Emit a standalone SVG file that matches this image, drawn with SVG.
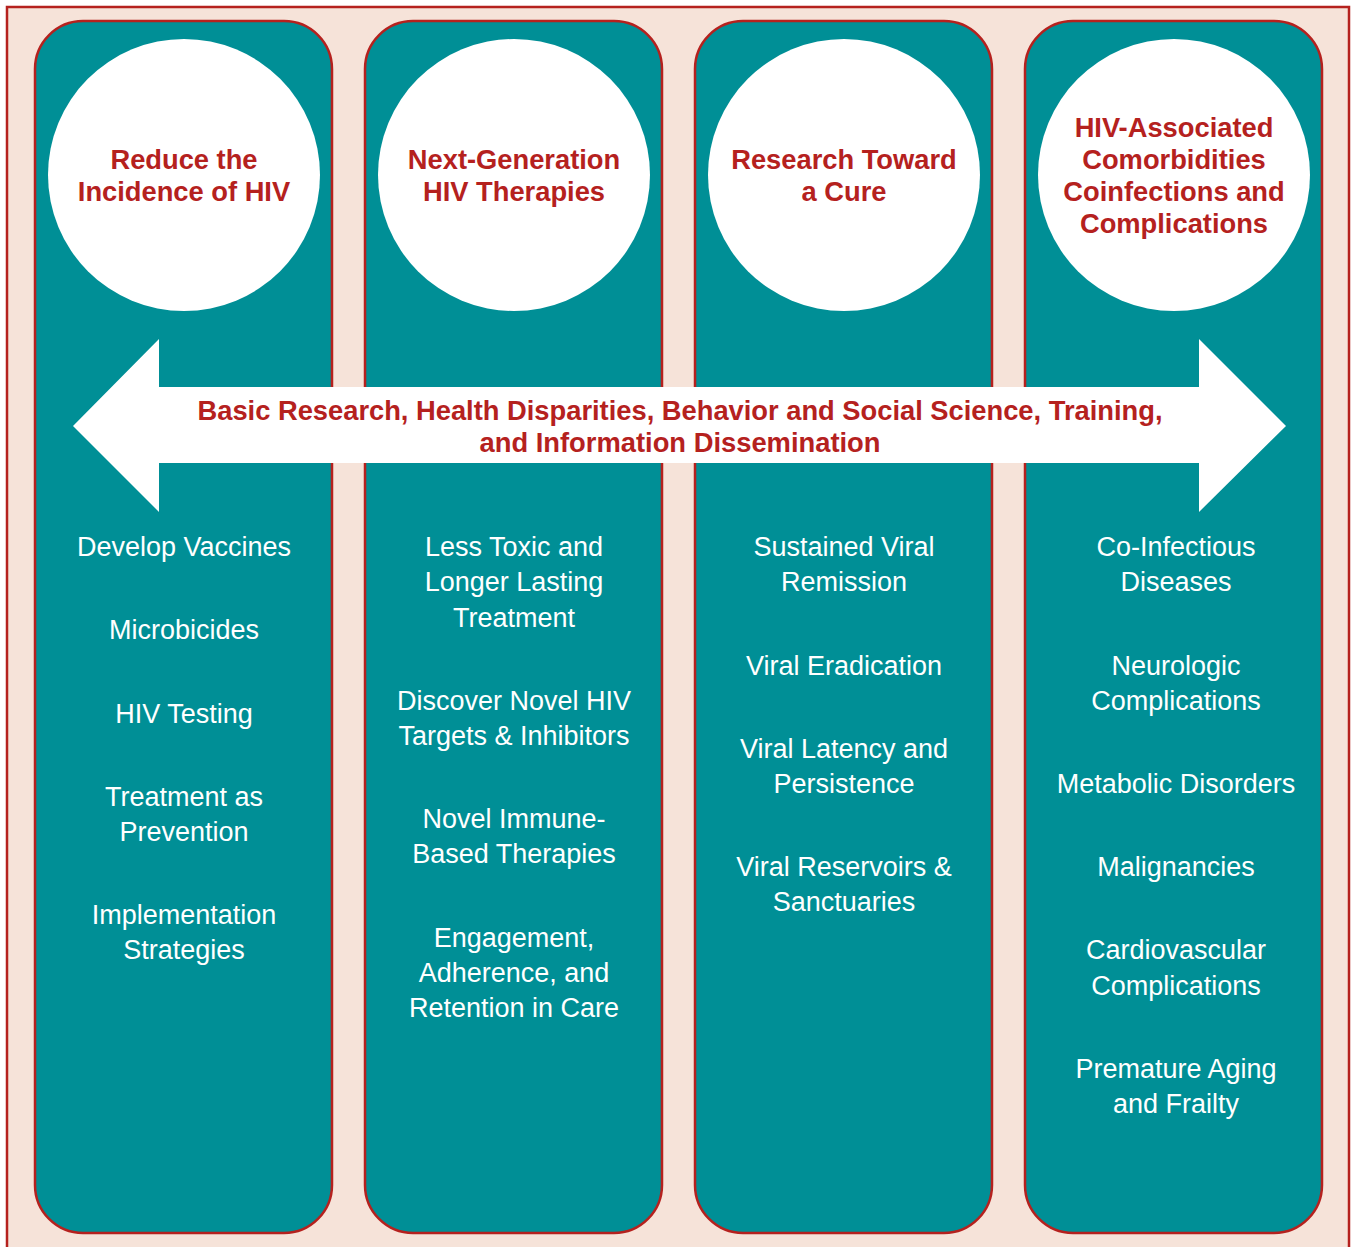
<svg xmlns="http://www.w3.org/2000/svg" width="1351" height="1247" viewBox="0 0 1351 1247">
<style>
.col{fill:#008f96;stroke:#b5211e;stroke-width:2.5}
.circ{fill:#ffffff}
.title{font-family:"Liberation Sans",Arial,sans-serif;font-weight:bold;font-size:27.3px;fill:#b5211e;text-anchor:middle}
.item{font-family:"Liberation Sans",Arial,sans-serif;font-size:27px;fill:#ffffff;text-anchor:middle}
.band{font-family:"Liberation Sans",Arial,sans-serif;font-weight:bold;font-size:27.5px;fill:#b5211e;text-anchor:middle}
</style>
<rect x="0" y="0" width="1351" height="1247" fill="#ffffff"/>
<rect id="frame" x="7" y="7" width="1342" height="1260" fill="#f6e3d9" stroke="#b5211e" stroke-width="2.5"/>

<g id="col-incidence">
<rect class="col" x="35" y="21" width="297" height="1212" rx="48" ry="48"/>
<circle class="circ" cx="184" cy="175" r="136"/>
<text class="title" x="184" y="169">Reduce the</text>
<text class="title" x="184" y="201">Incidence of HIV</text>
<text class="item" x="184" y="556">Develop Vaccines</text>
<text class="item" x="184" y="639">Microbicides</text>
<text class="item" x="184" y="723">HIV Testing</text>
<text class="item" x="184" y="806">Treatment as</text>
<text class="item" x="184" y="841">Prevention</text>
<text class="item" x="184" y="924">Implementation</text>
<text class="item" x="184" y="959">Strategies</text>
</g>

<g id="col-therapies">
<rect class="col" x="365" y="21" width="297" height="1212" rx="48" ry="48"/>
<circle class="circ" cx="514" cy="175" r="136"/>
<text class="title" x="514" y="169">Next-Generation</text>
<text class="title" x="514" y="201">HIV Therapies</text>
<text class="item" x="514" y="556">Less Toxic and</text>
<text class="item" x="514" y="591">Longer Lasting</text>
<text class="item" x="514" y="627">Treatment</text>
<text class="item" x="514" y="710">Discover Novel HIV</text>
<text class="item" x="514" y="745">Targets &amp; Inhibitors</text>
<text class="item" x="514" y="828">Novel Immune-</text>
<text class="item" x="514" y="863">Based Therapies</text>
<text class="item" x="514" y="947">Engagement,</text>
<text class="item" x="514" y="982">Adherence, and</text>
<text class="item" x="514" y="1017">Retention in Care</text>
</g>

<g id="col-cure">
<rect class="col" x="695" y="21" width="297" height="1212" rx="48" ry="48"/>
<circle class="circ" cx="844" cy="175" r="136"/>
<text class="title" x="844" y="169">Research Toward</text>
<text class="title" x="844" y="201">a Cure</text>
<text class="item" x="844" y="556">Sustained Viral</text>
<text class="item" x="844" y="591">Remission</text>
<text class="item" x="844" y="675">Viral Eradication</text>
<text class="item" x="844" y="758">Viral Latency and</text>
<text class="item" x="844" y="793">Persistence</text>
<text class="item" x="844" y="876">Viral Reservoirs &amp;</text>
<text class="item" x="844" y="911">Sanctuaries</text>
</g>

<g id="col-comorbidities">
<rect class="col" x="1025" y="21" width="297" height="1212" rx="48" ry="48"/>
<circle class="circ" cx="1174" cy="175" r="136"/>
<text class="title" x="1174" y="137">HIV-Associated</text>
<text class="title" x="1174" y="169">Comorbidities</text>
<text class="title" x="1174" y="201">Coinfections and</text>
<text class="title" x="1174" y="233">Complications</text>
<text class="item" x="1176" y="556">Co-Infectious</text>
<text class="item" x="1176" y="591">Diseases</text>
<text class="item" x="1176" y="675">Neurologic</text>
<text class="item" x="1176" y="710">Complications</text>
<text class="item" x="1176" y="793">Metabolic Disorders</text>
<text class="item" x="1176" y="876">Malignancies</text>
<text class="item" x="1176" y="959">Cardiovascular</text>
<text class="item" x="1176" y="995">Complications</text>
<text class="item" x="1176" y="1078">Premature Aging</text>
<text class="item" x="1176" y="1113">and Frailty</text>
</g>

<g id="crosscutting-arrow">
<polygon points="73,426 159,339 159,387 1199,387 1199,339 1286,426 1199,512 1199,463 159,463 159,512" fill="#ffffff"/>
<text class="band" x="680" y="420" textLength="965" lengthAdjust="spacingAndGlyphs">Basic Research, Health Disparities, Behavior and Social Science, Training,</text>
<text class="band" x="680" y="452" textLength="401" lengthAdjust="spacingAndGlyphs">and Information Dissemination</text>
</g>

<g id="connectors"></g>
</svg>
